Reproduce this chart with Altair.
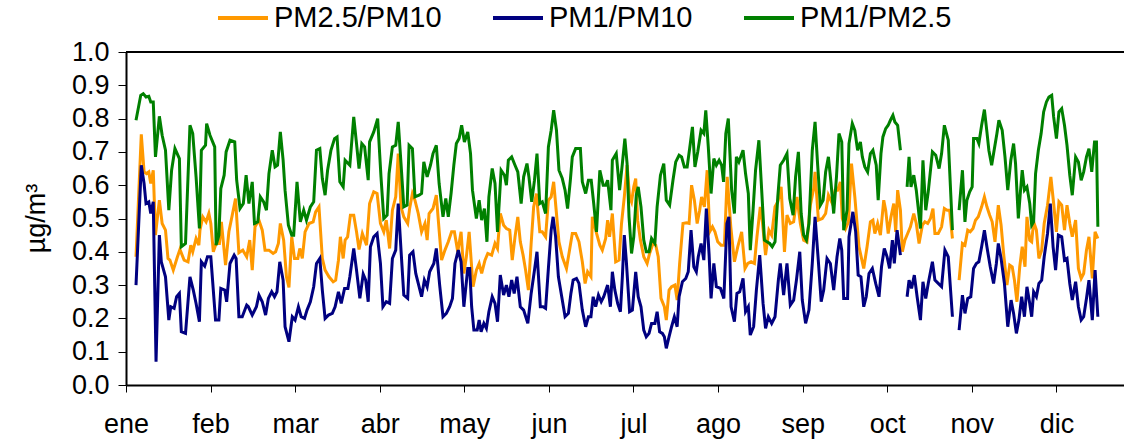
import altair as alt
import pandas as pd

MONTHS = ["ene", "feb", "mar", "abr", "may", "jun", "jul", "ago", "sep", "oct", "nov", "dic"]
MONTH_LEN = 365 / 12
SERIES = ["PM2.5/PM10", "PM1/PM10", "PM1/PM2.5"]
COLORS = ["#FF9900", "#000080", "#008000"]
Y_TICKS = [0.0, 0.1, 0.2, 0.3, 0.4, 0.5, 0.6, 0.7, 0.8, 0.9, 1.0]

# ---- PM2.5/PM10 (day of year, ratio; None = missing) ----
pm25_pm10_day = [3.6, 5.5, 6.5, 7.4, 8.2, 8.9, 9.8, 10.6, 12.0, 13.0, 14.2, 15.1, 15.8, 17.0, 18.5, 19.4, 20.9, 22.3, 23.3, 24.0,
    25.2, 26.2, 26.6, 27.6, 28.8, 29.8, 30.5, 31.4, 32.4, 33.6, 34.3, 35.8, 37.0, 38.2, 39.4, 40.6, 42.0, 43.4, 44.5, 45.4,
    46.4, 47.8, 49.0, 50.0, 51.4, 52.9, 53.8, 54.8, 55.5, 56.7, 57.7, 58.6, 59.6, 60.6, 61.8, 62.5, 63.4, 64.4, 65.8, 67.3,
    68.2, 69.4, 70.6, 71.6, 73.0, 74.5, 75.4, 76.4, 77.1, 78.1, 78.8, 79.7, 80.7, 81.9, 82.9, 83.8, 85.0, 86.5, 87.6, 89.1,
    90.3, 91.5, 92.7, 93.6, 94.8, 95.8, 97.0, 97.9, 98.9, 99.9, 101.3, 102.0, 103.0, 103.9, 105.1, 106.3, 107.5, 108.3, 109.0, 110.4,
    111.6, 112.6, 113.5, 114.7, 115.9, 117.1, 118.1, 119.3, 120.5, 121.5, 122.4, 123.4, 124.8, 126.0, 127.0, 127.9, 129.1, 130.1, 131.5, 132.7,
    133.6, 134.6, 135.8, 136.8, 138.0, 138.9, 139.9, 140.9, 141.8, 142.8, 143.7, 144.7, 145.7, 146.6, 147.6, 148.8, 149.7, 150.9, 151.9, 152.9,
    153.8, 154.8, 155.7, 156.9, 158.4, 159.3, 160.5, 161.7, 162.9, 164.1, 165.1, 166.0, 167.2, 167.7, 168.9, 170.4, 171.3, 172.5, 173.2, 173.9,
    174.9, 176.1, 177.3, 178.2, 179.2, 180.2, 181.1, 181.8, 182.6, 183.3, 184.0, 185.0, 186.2, 187.4, 188.3, 189.5, 190.5, 191.4, 192.4, 193.6,
    194.3, 195.3, 196.2, 197.4, 198.2, 199.1, 200.3, 201.5, 202.5, 203.4, 204.4, 205.4, 206.3, 207.0, 208.0, 209.0, 209.9, 210.9, 211.8, 212.8,
    214.0, 215.2, 216.2, 217.5, 218.8, 220.0, 221.4, 222.6, 223.6, 224.8, 226.0, 226.9, 228.1, 228.8, 230.0, 231.2, 232.2, 233.4, 234.4, 235.6,
    236.8, 237.7, 238.9, 240.1, 241.3, 242.5, 243.7, 244.9, 246.1, 247.3, 247.8, 249.0, 250.4, 251.6, 252.6, 254.0, 255.0, 255.9, 256.9, 257.6,
    258.8, 259.8, 260.9, 262.1, 263.6, 265.3, 266.5, 267.7, 268.6, 269.3, 270.3, 271.3, 272.5, 273.2, 274.1, 275.1, 276.1, 276.8, 277.5, 278.5,
    279.2, 280.1, 281.1, 282.1, 283.3, 284.2, 285.2, 286.4, 287.3, 288.3, 289.3, 290.2, 290.9, 292.1, 293.3, 294.3, 295.3, 296.2, 297.2, 298.4,
    299.6, 300.8, 301.7, 302.7, 303.6, 304.6, 305.5, 306.5, 307.7, 308.7, 309.6, 310.6, 311.5, 312.5, 313.7, 314.7, 315.6, 316.8, 317.8, 318.7,
    319.5, 320.4, 321.4, 322.3, 323.3, 324.0, 325.0, 325.7, 326.4, 327.4, 328.3, 329.3, 330.2, 331.4, 332.6, 333.6, 334.6, 335.5, 336.5, 337.5,
    338.4, 339.4, 340.3, 341.5, 342.5, 343.5, 344.4, 345.4, 346.3, 347.5, 348.5, 349.5]
pm25_pm10_val = [0.385, 0.753, 0.64, 0.635, 0.64, 0.605, 0.645, 0.45, 0.555, 0.485, 0.465, 0.38, 0.375, 0.345, 0.385, 0.407, 0.375, 0.37, 0.42, 0.40,
    0.44, 0.42, 0.465, 0.505, 0.49, 0.515, 0.485, 0.40, 0.425, 0.425, 0.49, 0.36, 0.46, 0.51, 0.56, 0.397, 0.405, 0.385, 0.435, 0.345,
    0.475, 0.495, 0.465, 0.405, 0.405, 0.395, 0.40, 0.425, 0.485, 0.435, 0.325, 0.293, 0.445, 0.38, 0.38, 0.41, 0.38, 0.46, 0.485, 0.49,
    0.52, 0.535, 0.38, 0.345, 0.325, 0.31, 0.315, 0.375, 0.445, 0.38, 0.435, 0.445, 0.51, 0.51, 0.46, 0.407, 0.455, 0.42, 0.545, 0.58,
    0.575, 0.485, 0.46, 0.495, 0.41, 0.525, 0.565, 0.695, 0.535, 0.505, 0.485, 0.53, 0.575, 0.555, 0.515, 0.46, 0.485, 0.435, 0.515, 0.53,
    0.57, 0.465, 0.375, 0.405, 0.43, 0.46, 0.46, 0.40, 0.46, 0.335, 0.385, 0.46, 0.295, 0.345, 0.365, 0.335, 0.375, 0.395, 0.39, 0.425,
    0.41, 0.515, 0.48, 0.47, 0.465, 0.375, 0.445, 0.505, 0.43, 0.39, 0.345, 0.285, 0.425, 0.535, 0.575, 0.46, 0.46, 0.445, 0.555, 0.565,
    0.61, 0.515, 0.43, 0.385, 0.35, 0.395, 0.455, 0.455, 0.43, 0.37, 0.305, 0.34, 0.325, 0.505, 0.465, 0.42, 0.405, 0.44, 0.495, 0.445,
    0.515, 0.37, 0.375, 0.485, 0.565, 0.66, 0.565, 0.55, 0.595, 0.62, 0.495, 0.435, 0.385, 0.365, 0.395, 0.425, 0.42, 0.385, 0.26, 0.235,
    0.195, 0.285, 0.295, 0.30, 0.255, 0.365, 0.485, 0.487, 0.485, 0.60, 0.555, 0.485, 0.525, 0.565, 0.535, 0.645, 0.46, 0.475, 0.46, 0.43,
    0.42, 0.42, 0.625, 0.475, 0.37, 0.415, 0.46, 0.35, 0.365, 0.37, 0.365, 0.445, 0.535, 0.495, 0.39, 0.465, 0.45, 0.535, 0.55, 0.595,
    0.40, 0.51, 0.485, 0.49, 0.565, 0.485, 0.435, 0.43, 0.54, 0.59, 0.64, 0.495, 0.50, 0.515, 0.57, 0.545, 0.585, 0.585, 0.61, 0.50,
    0.47, 0.49, 0.665, 0.565, 0.415, 0.35, 0.415, 0.49, 0.495, 0.455, 0.485, 0.45, 0.555, 0.525, 0.455, 0.505, 0.545, 0.46, 0.585, 0.525,
    0.40, 0.435, 0.455, 0.475, 0.515, 0.485, 0.425, 0.48, 0.49, 0.485, 0.50, 0.53, 0.455, 0.455, 0.475, 0.53, 0.525, 0.525, 0.44, None,
    0.315, 0.425, 0.42, 0.465, 0.46, 0.47, 0.495, 0.505, 0.535, 0.565, 0.535, 0.51, 0.49, 0.43, 0.54, 0.48, 0.395, 0.30, 0.36, 0.355,
    0.315, 0.25, 0.355, 0.415, 0.355, 0.505, 0.435, 0.43, 0.49, 0.465, 0.38, 0.405, 0.485, 0.54, 0.625, 0.545, 0.46, 0.55, 0.54, 0.465,
    0.54, 0.485, 0.445, 0.495, 0.35, 0.32, 0.335, 0.405, 0.445, 0.32, 0.46, 0.44]

# ---- PM1/PM10 ----
pm1_pm10_day = [3.6, 5.5, 6.5, 7.2, 8.2, 8.9, 9.8, 10.8, 12.0, 12.7, 14.2, 15.4, 16.1, 17.3, 18.2, 19.2, 19.9, 21.4, 23.0, 24.2,
    25.2, 26.4, 27.1, 28.3, 29.3, 30.5, 32.2, 33.4, 34.1, 35.5, 36.2, 37.4, 38.9, 39.6, 40.6, 41.8, 43.4, 44.0, 45.4, 46.9,
    47.8, 49.0, 50.2, 51.2, 52.4, 53.4, 54.3, 55.3, 56.5, 57.2, 58.6, 59.8, 60.8, 62.0, 63.0, 64.2, 65.1, 66.3, 67.5, 68.5,
    69.7, 70.6, 71.6, 72.8, 74.2, 75.2, 76.4, 77.4, 78.6, 79.8, 80.5, 81.9, 82.9, 84.1, 85.3, 86.2, 87.1, 87.9, 89.1, 90.3,
    91.5, 92.4, 93.6, 94.8, 95.8, 97.0, 97.9, 98.9, 99.9, 101.3, 102.0, 103.2, 104.2, 105.1, 106.3, 107.3, 108.3, 109.2, 110.7, 111.6,
    112.8, 114.0, 115.2, 116.4, 117.4, 118.3, 119.5, 120.5, 121.5, 122.9, 123.6, 124.3, 125.1, 126.3, 127.0, 127.7, 128.7, 129.6, 130.5, 131.7,
    132.7, 133.6, 134.6, 135.8, 136.8, 137.7, 138.7, 139.6, 140.6, 141.8, 143.0, 144.5, 145.7, 146.9, 147.8, 149.0, 150.0, 150.9, 151.9, 152.9,
    153.6, 154.5, 155.5, 156.7, 157.9, 159.1, 160.0, 160.8, 162.0, 162.9, 164.1, 165.3, 166.3, 167.2, 168.0, 168.9, 169.9, 170.9, 171.8, 173.2,
    174.2, 174.9, 175.8, 176.8, 177.8, 178.5, 179.2, 179.9, 181.1, 182.1, 183.3, 184.2, 185.2, 186.2, 187.1, 188.1, 189.0, 190.2, 191.0, 191.9,
    192.9, 193.6, 194.3, 195.3, 196.2, 197.2, 198.2, 198.9, 200.1, 201.3, 202.2, 203.2, 204.2, 205.1, 205.8, 206.8, 207.8, 208.7, 209.7, 210.4,
    211.4, 212.3, 213.8, 215.0, 216.1, 216.8, 217.6, 218.8, 219.7, 220.7, 221.9, 222.8, 223.8, 224.5, 225.7, 226.7, 227.9, 229.1, 230.0, 231.0,
    232.2, 233.4, 234.6, 235.3, 236.5, 237.7, 238.9, 240.1, 241.1, 242.3, 243.2, 244.4, 245.6, 246.8, 247.8, 249.0, 250.0, 250.9, 252.1, 253.3,
    254.5, 255.7, 256.7, 257.4, 258.1, 259.5, 260.0, 261.4, 262.4, 263.3, 264.3, 265.3, 266.2, 267.2, 268.4, 269.6, 270.8, 271.7, 272.7, 273.7,
    274.6, 275.6, 276.3, 277.3, 278.5, 279.5, 280.9, 281.6, 282.5, 283.5, 284.5, 285.7, 286.6, 287.6, 288.5, 290.0, 290.9, 292.1, 293.3, 294.5,
    295.7, 297.2, 298.4, 299.6, 300.8, 301.7, 302.7, 303.8, 304.8, 305.8, 306.7, 307.7, 308.7, 309.6, 310.8, 312.0, 313.0, 313.7, 314.7, 315.9,
    317.1, 318.3, 319.2, 320.2, 321.1, 322.1, 323.1, 324.0, 325.0, 325.7, 326.4, 327.4, 328.3, 329.3, 330.2, 331.4, 332.4, 333.4, 334.3, 335.3,
    336.5, 337.5, 338.4, 339.4, 340.3, 341.5, 342.5, 343.5, 344.4, 345.4, 346.3, 347.5, 348.5, 349.5]
pm1_pm10_val = [0.30, 0.66, 0.605, 0.545, 0.55, 0.515, 0.55, 0.07, 0.45, 0.37, 0.325, 0.195, 0.235, 0.23, 0.265, 0.275, 0.16, 0.155, 0.325, 0.285,
    0.245, 0.19, 0.37, 0.357, 0.385, 0.385, 0.195, 0.195, 0.29, 0.285, 0.25, 0.365, 0.39, 0.38, 0.205, 0.205, 0.24, 0.235, 0.21, 0.235,
    0.27, 0.25, 0.21, 0.26, 0.28, 0.265, 0.28, 0.37, 0.315, 0.175, 0.13, 0.205, 0.195, 0.235, 0.205, 0.20, 0.225, 0.25, 0.295, 0.365,
    0.38, 0.285, 0.20, 0.21, 0.215, 0.235, 0.28, 0.245, 0.29, 0.29, 0.325, 0.41, 0.345, 0.26, 0.333, 0.315, 0.25, 0.415, 0.445, 0.455,
    0.365, 0.235, 0.25, 0.245, 0.38, 0.405, 0.545, 0.405, 0.27, 0.26, 0.39, 0.40, 0.335, 0.305, 0.265, 0.315, 0.295, 0.34, 0.365, 0.41,
    0.30, 0.205, 0.215, 0.235, 0.26, 0.365, 0.405, 0.37, 0.235, 0.35, 0.35, 0.235, 0.165, 0.165, 0.195, 0.16, 0.185, 0.17, 0.22, 0.265,
    0.245, 0.19, 0.33, 0.27, 0.30, 0.265, 0.315, 0.275, 0.325, 0.235, 0.225, 0.185, 0.275, 0.345, 0.40, 0.235, 0.235, 0.23, 0.35, 0.465,
    0.505, 0.445, 0.325, 0.265, 0.205, 0.215, 0.275, 0.315, 0.32, 0.305, 0.225, 0.175, 0.205, 0.205, 0.265, 0.235, 0.27, 0.25, 0.265, 0.30,
    0.235, 0.34, 0.285, 0.245, 0.22, 0.325, 0.45, 0.375, 0.22, 0.225, 0.34, 0.265, 0.235, 0.165, 0.145, 0.155, 0.185, 0.185, 0.22, 0.16,
    0.155, 0.145, 0.11, 0.145, 0.175, 0.205, 0.175, 0.265, 0.31, 0.32, 0.34, 0.465, 0.355, 0.34, 0.385, 0.425, 0.375, 0.53, 0.39, 0.26,
    0.365, 0.295, 0.29, 0.26, 0.485, 0.505, 0.235, 0.19, 0.275, 0.28, 0.32, 0.22, 0.235, 0.15, 0.175, 0.285, 0.39, 0.245, 0.17, 0.205,
    0.185, 0.205, 0.315, 0.365, 0.27, 0.365, 0.24, 0.255, 0.315, 0.40, 0.255, 0.185, 0.225, 0.365, 0.505, 0.37, 0.25, 0.285, 0.38, 0.365,
    0.285, 0.385, 0.44, 0.405, 0.26, 0.26, 0.445, 0.52, 0.46, 0.33, 0.325, 0.235, 0.265, 0.335, 0.35, 0.305, 0.265, 0.355, 0.41, 0.385,
    0.35, 0.435, 0.365, 0.465, 0.39, None, 0.265, 0.315, 0.29, 0.33, 0.265, 0.195, 0.31, 0.26, 0.305, 0.37, 0.315, 0.305, 0.295, 0.405,
    0.385, 0.205, None, 0.165, 0.27, 0.215, 0.26, 0.265, 0.35, 0.365, 0.37, 0.415, 0.465, 0.415, 0.355, 0.305, 0.365, 0.425, 0.38, 0.305,
    0.175, 0.255, 0.215, 0.155, 0.195, 0.265, 0.205, 0.295, 0.245, 0.205, 0.28, 0.265, 0.305, 0.315, 0.385, 0.455, 0.545, 0.415, 0.345, 0.45,
    0.445, 0.375, 0.38, 0.305, 0.255, 0.31, 0.235, 0.195, 0.205, 0.26, 0.315, 0.195, 0.345, 0.205]

# ---- PM1/PM2.5 ----
pm1_pm25_day = [3.6, 5.3, 6.2, 7.2, 8.2, 8.9, 9.8, 10.6, 12.0, 13.0, 14.2, 15.4, 16.4, 17.6, 19.2, 19.9, 21.4, 23.0, 24.0, 25.2,
    26.4, 27.1, 28.6, 29.0, 30.2, 31.9, 32.4, 33.4, 34.1, 35.3, 36.0, 37.4, 39.1, 39.8, 41.0, 42.2, 43.2, 44.2, 45.4, 46.2,
    47.4, 48.3, 49.5, 50.5, 51.4, 52.6, 53.6, 54.5, 55.5, 56.5, 57.2, 58.4, 59.6, 60.3, 61.5, 62.7, 63.9, 64.9, 66.3, 67.5,
    68.5, 69.7, 70.6, 71.6, 72.5, 73.7, 75.0, 75.9, 76.9, 78.1, 78.8, 80.5, 81.9, 82.9, 83.8, 84.8, 85.8, 87.1, 87.6, 89.1,
    90.5, 91.7, 92.7, 93.9, 94.6, 95.8, 97.0, 97.9, 98.9, 99.9, 101.1, 101.8, 103.0, 103.9, 105.4, 106.3, 107.1, 108.3, 109.5, 110.4,
    111.6, 112.6, 114.0, 115.0, 115.9, 116.9, 117.9, 118.8, 119.8, 120.7, 121.7, 122.9, 123.9, 124.6, 126.0, 127.0, 127.9, 128.9, 129.8, 130.5,
    131.7, 132.7, 133.6, 134.9, 136.1, 136.8, 137.5, 138.7, 139.9, 140.9, 142.1, 143.0, 144.2, 144.9, 145.9, 146.9, 147.8, 148.8, 149.7, 150.9,
    151.9, 152.9, 153.8, 154.8, 155.7, 156.9, 157.9, 158.8, 159.8, 160.5, 161.7, 163.4, 164.1, 165.3, 166.3, 167.3, 168.2, 169.2, 170.4, 171.6,
    172.5, 173.2, 174.4, 174.9, 176.3, 177.5, 178.5, 179.4, 180.2, 180.9, 181.8, 182.6, 183.5, 184.2, 185.2, 186.2, 187.1, 188.1, 189.0, 190.2,
    191.0, 192.2, 193.4, 194.3, 195.5, 196.7, 197.7, 198.9, 199.8, 200.8, 201.8, 202.7, 203.7, 204.6, 205.6, 206.8, 207.8, 208.5, 209.4, 210.4,
    211.4, 212.3, 213.3, 214.2, 214.9, 215.7, 216.6, 217.8, 218.8, 219.5, 220.4, 221.9, 222.8, 223.8, 224.5, 225.5, 226.4, 227.6, 228.6, 229.6,
    230.5, 231.5, 232.4, 233.4, 234.4, 235.3, 236.5, 237.7, 238.7, 239.9, 240.8, 241.8, 242.8, 243.7, 244.7, 245.6, 246.8, 247.8, 248.7, 249.7,
    250.7, 251.6, 252.6, 253.5, 254.5, 255.5, 256.4, 257.4, 258.1, 259.3, 260.0, 261.2, 262.1, 263.1, 264.1, 264.8, 265.7, 266.7, 267.7, 268.6,
    269.8, 270.5, 271.5, 272.2, 273.2, 274.1, 274.9, 275.8, 276.5, 277.5, 278.5, 279.5, 280.9, 281.6, 282.3, 283.3, 284.2, 285.7, 286.6, 287.6,
    288.5, 290.0, 291.2, 292.4, 293.3, 294.3, 295.7, 297.2, 298.4, 299.6, 300.8, 301.7, 302.4, 303.4, 304.3, 304.8, 306.0, 306.7, 307.7, 308.7,
    309.6, 310.3, 311.3, 312.3, 313.2, 313.9, 315.1, 316.1, 317.1, 318.2, 319.2, 319.9, 320.9, 321.6, 322.3, 323.1, 324.0, 325.0, 325.7, 326.4,
    327.1, 328.1, 329.1, 330.0, 331.0, 331.9, 332.9, 333.6, 334.6, 335.5, 336.5, 337.5, 338.4, 339.4, 340.3, 341.5, 342.5, 343.5, 344.4, 345.4,
    346.3, 347.3, 348.3, 349.0, 349.5]
pm1_pm25_val = [0.795, 0.87, 0.875, 0.865, 0.867, 0.85, 0.85, 0.685, 0.807, 0.75, 0.705, 0.525, 0.645, 0.71, 0.68, 0.415, 0.425, 0.78, 0.755, 0.625,
    0.47, 0.705, 0.72, 0.785, 0.75, 0.715, 0.42, 0.45, 0.59, 0.63, 0.70, 0.735, 0.73, 0.615, 0.53, 0.545, 0.63, 0.545, 0.61, 0.485,
    0.49, 0.565, 0.55, 0.525, 0.635, 0.705, 0.655, 0.66, 0.76, 0.675, 0.585, 0.48, 0.45, 0.45, 0.61, 0.49, 0.525, 0.495, 0.535, 0.55,
    0.705, 0.71, 0.62, 0.57, 0.645, 0.705, 0.74, 0.745, 0.61, 0.595, 0.675, 0.66, 0.805, 0.725, 0.65, 0.725, 0.715, 0.615, 0.73, 0.76,
    0.80, 0.625, 0.50, 0.51, 0.635, 0.715, 0.72, 0.79, 0.665, 0.535, 0.54, 0.72, 0.71, 0.565, 0.57, 0.575, 0.67, 0.625, 0.66, 0.695,
    0.72, 0.605, 0.505, 0.56, 0.505, 0.575, 0.66, 0.725, 0.74, 0.78, 0.73, 0.76, 0.695, 0.585, 0.50, 0.555, 0.495, 0.53, 0.43, 0.565,
    0.65, 0.605, 0.46, 0.645, 0.63, 0.60, 0.675, 0.685, 0.66, 0.64, 0.545, 0.625, 0.665, 0.625, 0.55, 0.615, 0.695, 0.545, 0.55, 0.515,
    0.715, 0.765, 0.825, 0.765, 0.645, 0.62, 0.585, 0.53, 0.615, 0.685, 0.71, 0.71, 0.61, 0.575, 0.615, 0.615, 0.545, 0.46, 0.645, 0.60,
    0.60, 0.615, 0.525, 0.675, 0.695, 0.585, 0.665, 0.74, 0.665, 0.505, 0.395, 0.445, 0.57, 0.595, 0.535, 0.435, 0.40, 0.40, 0.44, 0.425,
    0.535, 0.63, 0.665, 0.555, 0.54, 0.615, 0.67, 0.69, 0.685, 0.655, 0.655, 0.71, 0.775, 0.655, 0.70, 0.765, 0.755, 0.825, 0.715, 0.575,
    0.68, 0.66, 0.675, 0.66, 0.61, 0.755, 0.80, 0.585, 0.515, 0.685, 0.67, 0.705, 0.635, 0.575, 0.405, 0.525, 0.645, 0.735, 0.585, 0.435,
    0.43, 0.425, 0.415, 0.43, 0.565, 0.66, 0.675, 0.695, 0.56, 0.51, 0.625, 0.70, 0.515, 0.45, 0.435, 0.485, 0.705, 0.79, 0.665, 0.54,
    0.555, 0.64, 0.685, 0.61, 0.515, 0.625, 0.755, 0.73, 0.465, 0.525, 0.725, 0.785, 0.765, 0.705, 0.73, 0.685, 0.655, 0.64, 0.695, 0.705,
    0.66, 0.555, 0.695, 0.745, 0.77, 0.78, 0.795, 0.81, 0.79, 0.78, 0.705, None, 0.595, 0.685, 0.595, 0.63, 0.585, 0.47, 0.675, 0.525,
    0.58, 0.70, 0.69, 0.65, 0.695, 0.78, 0.735, 0.465, None, 0.525, 0.645, 0.49, 0.555, 0.58, 0.595, 0.74, 0.74, 0.725, 0.78, 0.827,
    0.76, 0.705, 0.66, 0.71, 0.755, 0.795, 0.765, 0.685, 0.585, 0.675, 0.725, 0.665, 0.50, 0.575, 0.645, 0.585, 0.595, 0.545, 0.48, 0.49,
    0.635, 0.705, 0.755, 0.82, 0.85, 0.865, 0.87, 0.805, 0.74, 0.82, 0.83, 0.78, 0.72, 0.63, 0.57, 0.685, 0.67, 0.615, 0.64, 0.685,
    0.71, 0.64, 0.73, 0.73, 0.475]


def rows_for(name, days, vals):
    out, seg = [], 0
    for d, v in zip(days, vals):
        if v is None:
            seg += 1
            continue
        out.append({"day": d, "ratio": v, "serie": name, "seg": f"{name}-{seg}"})
    return out


records = (rows_for(SERIES[0], pm25_pm10_day, pm25_pm10_val)
           + rows_for(SERIES[1], pm1_pm10_day, pm1_pm10_val)
           + rows_for(SERIES[2], pm1_pm25_day, pm1_pm25_val))
df = pd.DataFrame(records)

FONT = "Liberation Sans"
X_MAX = 358.9
x_scale = alt.Scale(domain=[0, X_MAX], nice=False, zero=False)
y_scale = alt.Scale(domain=[0, 1], nice=False, zero=False)
month_ticks = [i * MONTH_LEN for i in range(12)]
label_expr = "[" + ",".join(f"'{m}'" for m in MONTHS) + "][round(datum.value / " + str(MONTH_LEN) + ")]"

x_axis = alt.Axis(values=month_ticks, labelExpr=label_expr, title=None, grid=False,
                  domainColor="black", domainWidth=2, tickColor="black", tickSize=7,
                  tickWidth=1, labelFont=FONT, labelFontSize=27, labelColor="black",
                  labelPadding=19, labelFlush=False, labelOverlap=False)
y_axis = alt.Axis(values=Y_TICKS, format=".1f", title="µg/m³", grid=False,
                  domainColor="black", domainWidth=2, tickColor="black", tickSize=8,
                  tickWidth=1, labelFont=FONT, labelFontSize=27, labelColor="black",
                  labelPadding=9, labelFlush=False, labelOverlap=False, labelBound=False,
                  titleFont=FONT, titleFontSize=27, titleFontWeight="normal",
                  titleColor="black", titleX=-90, titleY=166, titleAngle=270,
                  titleAlign="center", titleBaseline="middle")

lines = alt.Chart(df).mark_line(strokeWidth=3, clip=True).encode(
    x=alt.X("day:Q", scale=x_scale, axis=x_axis),
    y=alt.Y("ratio:Q", scale=y_scale, axis=y_axis),
    color=alt.Color("serie:N", scale=alt.Scale(domain=SERIES, range=COLORS),
                    legend=alt.Legend(title=None, orient="none", legendX=90, legendY=-61,
                                      direction="horizontal", symbolType="stroke",
                                      symbolSize=2500, symbolStrokeWidth=4, labelFont=FONT,
                                      labelFontSize=29, labelColor="black", labelOffset=4,
                                      columnPadding=43, gridAlign="none", labelLimit=400)),
    detail="seg:N",
)

top_line = alt.Chart(pd.DataFrame({"y": [1.0]})).mark_rule(color="black", strokeWidth=2).encode(
    y=alt.Y("y:Q", scale=y_scale, axis=y_axis)
)

chart = alt.layer(lines, top_line).properties(
    width=998, height=333,
    autosize=alt.AutoSizeParams(type="none"),
    padding={"left": 126, "top": 52, "right": 0, "bottom": 56},
).configure_view(stroke=None).configure(background="white")

chart.save("out.html", embed_options={"renderer": "svg", "actions": False})
